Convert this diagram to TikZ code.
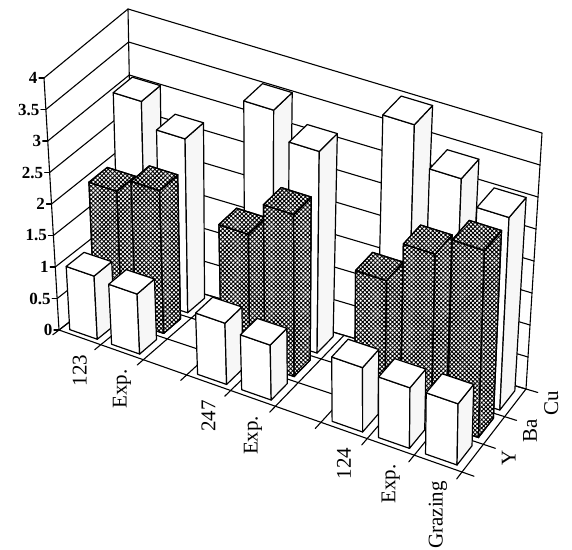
\documentclass[tikz,border=0pt]{standalone}
\usepackage{fontspec}
\setmainfont{Liberation Serif}
\usetikzlibrary{patterns.meta}

% slot u (0..9 along the categories), series v (0..3 into depth), value w
\newcommand\chartpt[4]{%
  \pgfmathsetmacro\chS{0.925*(#2)/9+0.075*((#2)/9)^2}%
  \pgfmathsetmacro\chT{(#3)/3}%
  \pgfmathsetmacro\chX{59+403*\chS+74*\chT-10*\chS*\chT+(#4)*(-3.75+4.75*\chS+2.5*\chT+0.5*\chS*\chT)}%
  \pgfmathsetmacro\chY{330+142*\chS-57*\chT-26*\chS*\chT-(#4)*(63+3*\chT-2*\chS*\chT)}%
  \coordinate (#1) at (\chX,\chY);}

% one bar: slot, series, value, face style, side style
\newcommand\chartbar[5]{%
  \chartpt{p1}{#1+0.17}{#2+0.15}{0}
  \chartpt{p2}{#1+0.83}{#2+0.15}{0}
  \chartpt{p3}{#1+0.83}{#2+0.85}{0}
  \chartpt{q1}{#1+0.17}{#2+0.15}{#3}
  \chartpt{q2}{#1+0.83}{#2+0.15}{#3}
  \chartpt{q3}{#1+0.83}{#2+0.85}{#3}
  \chartpt{q4}{#1+0.17}{#2+0.85}{#3}
  \filldraw[#4] (p1) -- (p2) -- (q2) -- (q1) -- cycle;
  \filldraw[#5] (p2) -- (p3) -- (q3) -- (q2) -- cycle;
  \filldraw[#4] (q1) -- (q2) -- (q3) -- (q4) -- cycle;}

\tikzset{
  wall/.style={line width=1.1pt},
  lightbar/.style={fill=white, draw=black, line width=1.2pt},
  lightside/.style={fill=gray!6, draw=black, line width=1.2pt},
  darkbar/.style={fill=white, draw=black, line width=1.2pt,
    postaction={pattern={Hatch[distance=3pt, angle=45, line width=0.9pt]}, draw}},
  catlabel/.style={rotate=90, anchor=east, font=\fontsize{21}{21}\selectfont},
  serlabel/.style={rotate=90, font=\fontsize{21}{21}\selectfont},
  axlabel/.style={left, inner sep=1pt, font=\fontsize{17}{17}\selectfont\bfseries}
}

\begin{document}
\begin{tikzpicture}[x=1pt, y=-1pt, line join=round, line cap=round]
  \useasboundingbox (0,0) rectangle (572,549);
  %%%%%%%%%%%%%%%%%%%%%%%%%%%%%%%%%
  \chartpt{FL}{0}{0}{0}
  \chartpt{FR}{9}{0}{0}
  \chartpt{BL}{0}{3}{0}
  \chartpt{BR}{9}{3}{0}
  \chartpt{FLt}{0}{0}{4}
  \chartpt{BLt}{0}{3}{4}
  \chartpt{BRt}{9}{3}{4}
  %%%%%%%%%%%%%%%%%%%%%%%%%%%%%%%%%
  % walls and grid
  \draw[wall] (FL) -- (FLt) -- (BLt) -- (BRt) -- (BR);
  \draw[wall] (BLt) -- (BL);
  \foreach \w in {0,0.5,...,3.5}{
    \chartpt{a}{0}{0}{\w}
    \chartpt{b}{0}{3}{\w}
    \chartpt{c}{9}{3}{\w}
    \draw[wall] (a) -- (b) -- (c);
  }
  % floor
  \foreach \k in {0,...,9}{
    \chartpt{b}{\k}{3}{0}
    \chartpt{c}{\k}{-0.25}{0}
    \draw[wall] (c) -- (b);
  }
  \foreach \v in {0,...,3}{
    \chartpt{a}{0}{\v}{0}
    \chartpt{b}{9.25}{\v}{0}
    \draw[wall] (a) -- (b);
  }
  % value axis
  \foreach \w in {0,0.5,1,1.5,2,2.5,3,3.5,4}{
    \chartpt{a}{0}{0}{\w}
    \draw[wall] (a) -- ++(-5,0) node[axlabel]{\w};
  }
  %%%%%%%%%%%%%%%%%%%%%%%%%%%%%%%%%
  % bars: Cu, then Ba, then Y
  \foreach \k/\vy/\vba/\vcu in {0/1.0/2.0/3.05, 1/0.95/2.23/2.68, 3/0.97/2.0/3.55,
      4/0.87/2.54/3.13, 6/1.02/1.98/4.0, 7/0.96/2.64/3.39, 8/0.97/2.95/3.02}{
    \chartbar{\k}{2}{\vcu}{lightbar}{lightside}
  }
  \foreach \k/\vy/\vba/\vcu in {0/1.0/2.0/3.05, 1/0.95/2.23/2.68, 3/0.97/2.0/3.55,
      4/0.87/2.54/3.13, 6/1.02/1.98/4.0, 7/0.96/2.64/3.39, 8/0.97/2.95/3.02}{
    \chartbar{\k}{1}{\vba}{darkbar}{darkbar}
  }
  \foreach \k/\vy/\vba/\vcu in {0/1.0/2.0/3.05, 1/0.95/2.23/2.68, 3/0.97/2.0/3.55,
      4/0.87/2.54/3.13, 6/1.02/1.98/4.0, 7/0.96/2.64/3.39, 8/0.97/2.95/3.02}{
    \chartbar{\k}{0}{\vy}{lightbar}{lightside}
  }
  %%%%%%%%%%%%%%%%%%%%%%%%%%%%%%%%%
  % labels
  \foreach \k/\lab in {0/123, 1/Exp., 3/247, 4/Exp., 6/124, 7/Exp., 8/Grazing}{
    \chartpt{a}{\k+0.5}{0}{0}
    \node[catlabel] at ([yshift=-14pt]a) {\lab};
  }
  \foreach \v/\lab in {0/Y, 1/Ba, 2/Cu}{
    \chartpt{a}{9}{\v+0.5}{0}
    \node[serlabel] at ([xshift=36pt]a) {\lab};
  }
\end{tikzpicture}
\end{document}
